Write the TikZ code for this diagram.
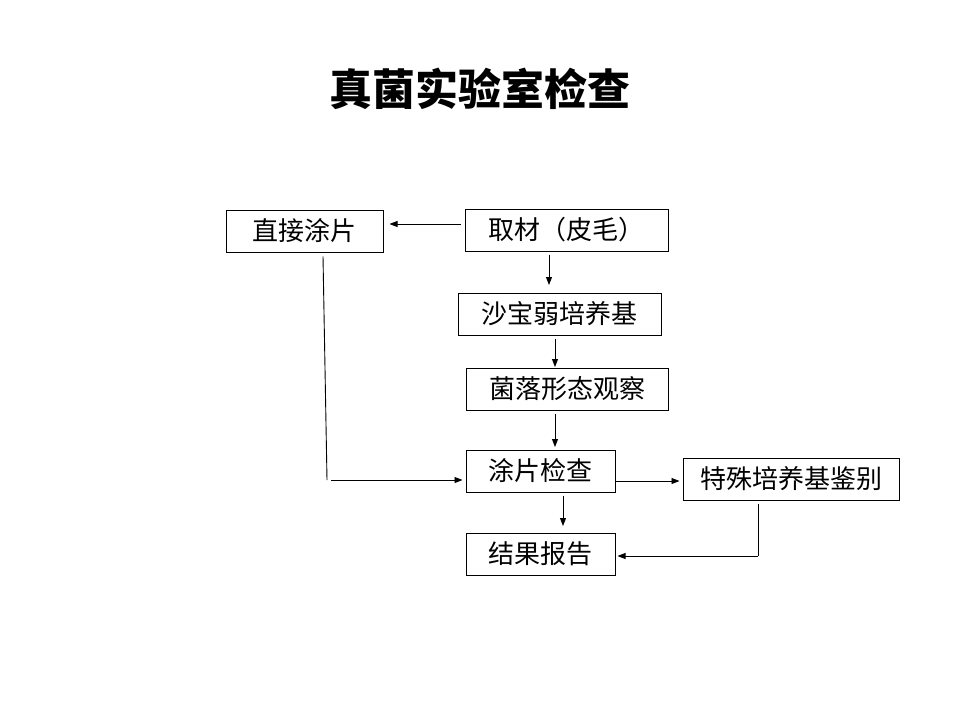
\documentclass[tikz,border=0pt]{standalone}
\usepackage{fontspec}
\setmainfont{Noto Sans CJK SC}
\usetikzlibrary{arrows.meta}
\begin{document}
\begin{tikzpicture}[x=1pt,y=-1pt,
  box/.style={draw,line width=1pt,inner sep=0pt,font=\fontsize{26}{28}\selectfont},
  arr/.style={line width=0.9pt,-{Triangle[length=8pt,width=6pt]}},
  ln/.style={line width=0.9pt}]
\useasboundingbox (0,0) rectangle (960,720);
\node[font=\fontsize{43}{46}\selectfont\bfseries] (title) at (480,89) {真菌实验室检查};
\node[box,minimum width=157pt,minimum height=42pt] (zj) at (304.5,231) {直接涂片};
\node[box,minimum width=203pt,minimum height=42pt] (qc) at (566.5,230) {取材（皮毛）};
\node[box,minimum width=203pt,minimum height=42pt] (sb) at (559.5,314) {沙宝弱培养基};
\node[box,minimum width=202pt,minimum height=42pt] (jl) at (567,389) {菌落形态观察};
\node[box,minimum width=149pt,minimum height=42pt] (tp) at (540.5,471) {涂片检查};
\node[box,minimum width=216pt,minimum height=42pt] (ts) at (791,479) {特殊培养基鉴别};
\node[box,minimum width=149pt,minimum height=42pt] (jg) at (540.5,554) {结果报告};
% connectors
\draw[arr] ([xshift=-4pt]qc.west |- 0,224) -- ([xshift=6pt]zj.east |- 0,224);
\draw[arr] (549,0 |- qc.south) ++(0,3) -- (549,285);
\draw[arr] (555,0 |- sb.south) ++(0,3) -- (555,367);
\draw[arr] (555,0 |- jl.south) ++(0,3) -- (555,447);
\coordinate (bend) at (327,480);
\draw[ln] (zj.south -| 323,0) ++(0,4) -- (bend);
\draw[arr] ([xshift=4pt]bend) -- ([xshift=-3pt]tp.west |- bend);
\draw[arr] (tp.east |- 0,481) -- ([xshift=-3pt]ts.west |- 0,481);
\draw[arr] (tp.south -| 563,0) ++(0,3) -- (563,526);
\coordinate (rt) at (758,556);
\draw[ln] (ts.south -| rt) ++(0,3) -- (rt);
\draw[arr] (rt) -- ([xshift=2pt]jg.east |- rt);
\end{tikzpicture}
\end{document}
